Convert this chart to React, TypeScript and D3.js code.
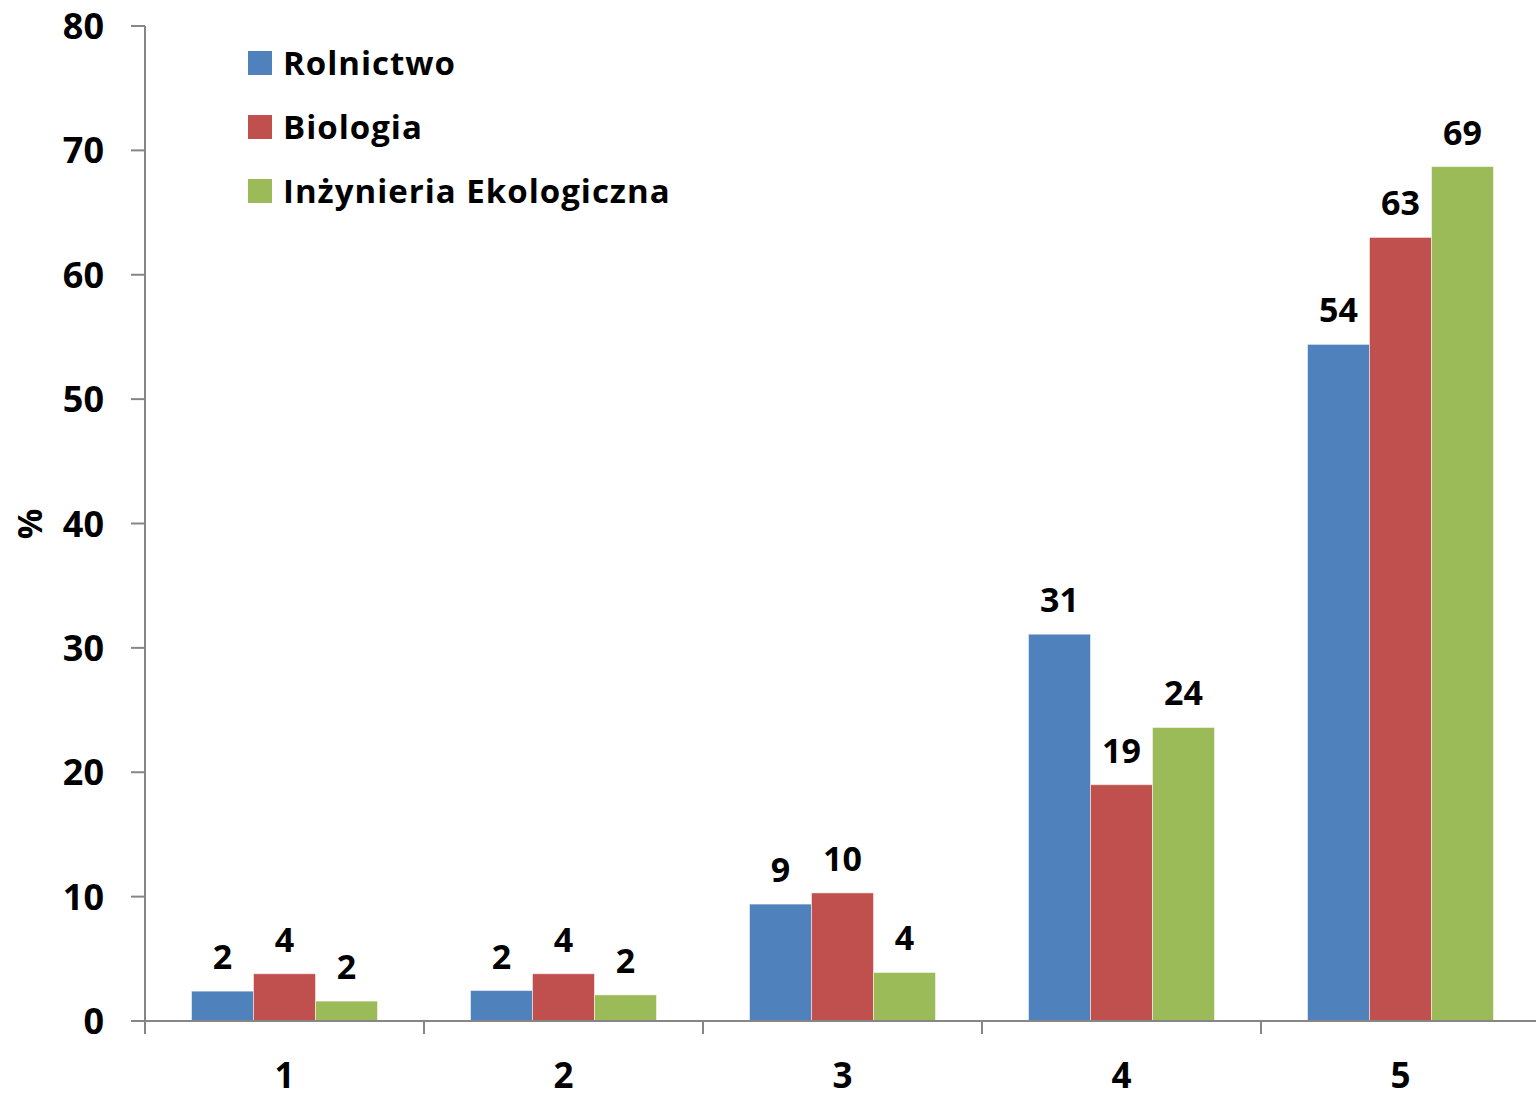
import React from 'react';
import * as d3 from 'd3';

const categories = ['1', '2', '3', '4', '5'];
const seriesNames = ['Rolnictwo', 'Biologia', 'Inżynieria Ekologiczna'];
const rolnictwo = [2.4, 2.45, 9.4, 31.1, 54.4];
const biologia = [3.8, 3.8, 10.3, 19.0, 63.0];
const inzynieria = [1.6, 2.1, 3.9, 23.6, 68.7];
const yTicks = [0, 10, 20, 30, 40, 50, 60, 70, 80];
const colors = ['#4F81BD', '#C0504D', '#9BBB59'];

const W = 1536;
const H = 1095;
const FONT = '"Open Sans", Lato, sans-serif';

export default function App() {
  const series = [rolnictwo, biologia, inzynieria];
  const y = d3.scaleLinear().domain([0, 80]).range([1021, 26]);
  const x = d3.scaleBand().domain(categories).range([145, 1540]).paddingInner(1 / 3).paddingOuter(1 / 6);
  const xs = d3.scaleBand().domain(seriesNames).range([0, x.bandwidth()]);
  const step = x.step();
  const axisColor = '#868686';

  return (
    <svg width={W} height={H} style={{ position: 'absolute', left: 0, top: 0, background: '#fff' }} fontFamily={FONT}>
      {/* y axis */}
      <line x1={145} x2={145} y1={y(80)} y2={y(0)} stroke={axisColor} strokeWidth={2} />
      {yTicks.map((t) => (
        <g key={t}>
          <line x1={131} x2={145} y1={y(t)} y2={y(t)} stroke={axisColor} strokeWidth={2} />
          <text x={104} y={y(t) + 13} textAnchor="end" fontSize={36} fontWeight={700} fill="#000">
            {t}
          </text>
        </g>
      ))}
      <text transform={`translate(42,524) rotate(-90)`} textAnchor="middle" fontSize={34} fontWeight={700} fill="#000">
        %
      </text>

      {/* bars */}
      {series.map((vals, si) =>
        vals.map((v, ci) => {
          const bx = (x(categories[ci]) as number) + (xs(seriesNames[si]) as number);
          return (
            <g key={`${si}-${ci}`}>
              <rect x={bx} y={y(v)} width={xs.bandwidth()} height={y(0) - y(v)} fill={colors[si]} stroke="#fff" strokeOpacity={0.5} strokeWidth={1} />
              <text x={bx + xs.bandwidth() / 2} y={y(v) - 22} textAnchor="middle" fontSize={34} fontWeight={700} fill="#000">
                {Math.round(v)}
              </text>
            </g>
          );
        })
      )}

      {/* x axis */}
      <line x1={131} x2={W} y1={y(0)} y2={y(0)} stroke={axisColor} strokeWidth={2} />
      {d3.range(categories.length + 1).map((i) => (
        <line key={i} x1={145 + i * step} x2={145 + i * step} y1={y(0)} y2={y(0) + 13} stroke={axisColor} strokeWidth={2} />
      ))}
      {categories.map((c) => (
        <text key={c} x={(x(c) as number) + x.bandwidth() / 2} y={1088} textAnchor="middle" fontSize={35} fontWeight={700} fill="#000">
          {c}
        </text>
      ))}

      {/* legend */}
      {seriesNames.map((n, i) => (
        <g key={n} transform={`translate(248,${51 + i * 64})`}>
          <rect x={0} y={0} width={24} height={24} fill={colors[i]} />
          <text x={35} y={24} fontSize={33} fontWeight={700} letterSpacing={1} fill="#000">
            {n}
          </text>
        </g>
      ))}
    </svg>
  );
}
